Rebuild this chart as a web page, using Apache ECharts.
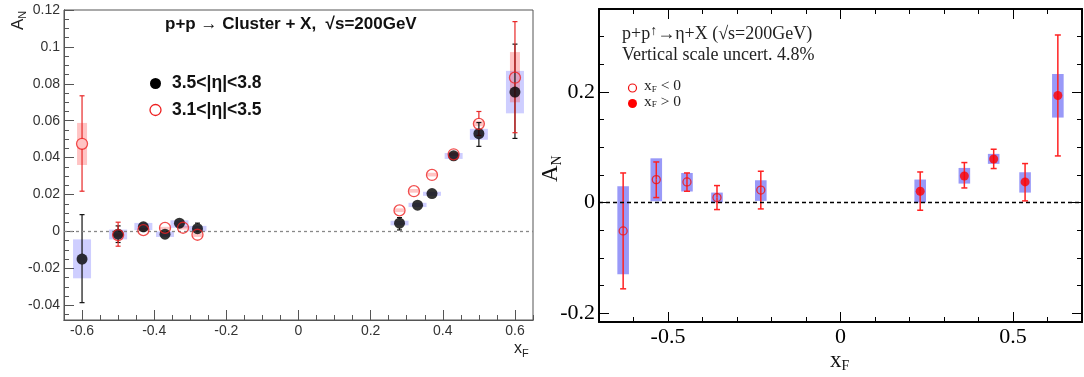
<!DOCTYPE html>
<html>
<head>
<meta charset="utf-8">
<script src="https://cdn.jsdelivr.net/npm/echarts@6/dist/echarts.min.js"></script>
<style>
  html, body { margin: 0; padding: 0; background: #fff; }
  #chart { width: 1084px; height: 377px; }
</style>
</head>
<body>
<div id="chart"></div>
<script>
// left panel, 3.5<|eta|<3.8 (black filled)
const xfL1 = [-0.6, -0.5, -0.43, -0.37, -0.33, -0.28, 0.28, 0.33, 0.37, 0.43, 0.5, 0.6];
const anL1 = [-0.015, -0.0015, 0.0025, -0.0015, 0.0045, 0.0015, 0.0045, 0.0142, 0.0205, 0.041, 0.053, 0.0755];
const errLoL1 = [-0.0386, -0.006, 0.0005, -0.0035, 0.002, -0.001, 0.0008, 0.0122, 0.0185, 0.0388, 0.0461, 0.0504];
const errHiL1 = [0.0091, 0.003, 0.0047, 0.0005, 0.0065, 0.0045, 0.0075, 0.0162, 0.0225, 0.0432, 0.059, 0.1015];
const sysLoL1 = [-0.0254, -0.0043, 0.0007, -0.003, 0.002, 0.0, 0.0033, 0.0132, 0.0193, 0.0393, 0.0497, 0.064];
const sysHiL1 = [-0.0043, 0.001, 0.0046, 0.0, 0.006, 0.003, 0.0058, 0.0155, 0.0215, 0.0425, 0.0556, 0.087];

// left panel, 3.1<|eta|<3.5 (red open)
const xfL2 = [-0.6, -0.5, -0.43, -0.37, -0.32, -0.28, 0.28, 0.32, 0.37, 0.43, 0.5, 0.6];
const anL2 = [0.0475, -0.002, 0.0007, 0.0019, 0.002, -0.0018, 0.0114, 0.0218, 0.0306, 0.0418, 0.0583, 0.0833];
const errLoL2 = [0.0218, -0.008, -0.0013, -0.0001, 0.0, -0.0038, 0.0094, 0.0198, 0.0286, 0.0398, 0.052, 0.0535];
const errHiL2 = [0.0735, 0.005, 0.0027, 0.0039, 0.004, 0.0002, 0.0134, 0.0238, 0.0326, 0.0438, 0.065, 0.1137];
const sysLoL2 = [0.036, -0.003, 0.0, 0.001, 0.001, -0.003, 0.0105, 0.021, 0.0298, 0.041, 0.057, 0.070];
const sysHiL2 = [0.0588, -0.001, 0.002, 0.0025, 0.003, -0.001, 0.0125, 0.023, 0.0318, 0.043, 0.060, 0.0972];

// right panel, x_F < 0 (open)
const xfNeg = [-0.63, -0.534, -0.445, -0.358, -0.231];
const anNeg = [-0.0513, 0.0415, 0.0373, 0.009, 0.0226];
const errLoNeg = [-0.156, 0.009, 0.0204, -0.0127, -0.0115];
const errHiNeg = [0.0535, 0.0734, 0.0535, 0.0307, 0.0566];
const sysLoNeg = [-0.1297, 0.0024, 0.020, 0.0, 0.003];
const sysHiNeg = [0.0293, 0.080, 0.0535, 0.018, 0.0403];

// right panel, x_F > 0 (filled)
const xfPos = [0.231, 0.359, 0.444, 0.535, 0.63];
const anPos = [0.0204, 0.048, 0.0788, 0.0373, 0.1935];
const errLoPos = [-0.0139, 0.0264, 0.0615, 0.003, 0.0843];
const errHiPos = [0.0553, 0.0723, 0.0964, 0.0705, 0.303];
const sysLoPos = [0.0, 0.0343, 0.070, 0.018, 0.1537];
const sysHiPos = [0.0416, 0.0626, 0.088, 0.0548, 0.2325];

// tick labels
const labelsXL = [-0.6, -0.4, -0.2, 0, 0.2, 0.4, 0.6];
const labelsYL = [-0.04, -0.02, 0, 0.02, 0.04, 0.06, 0.08, 0.1, 0.12];
const labelsXR = [-0.5, 0, 0.5];
const labelsYR = [-0.2, 0, 0.2];

const SANS = "'Liberation Sans', Arial, sans-serif";
const SERIF = "'Liberation Serif', 'Times New Roman', serif";

function steps(a, b, s) {
  const out = [];
  for (let v = a; v <= b + 1e-9; v += s) out.push(+v.toFixed(4));
  return out;
}
const zip = (...cols) => cols[0].map((_, i) => cols.map(c => c[i]));

function axis(grid, pos, min, max, ticks, len, labels, color, width, font) {
  return {
    type: 'value', gridIndex: grid, position: pos, min, max,
    axisLine: { onZero: false, lineStyle: { color, width } },
    axisTick: { inside: true, length: len, customValues: ticks, lineStyle: { color, width: 1 } },
    axisLabel: labels
      ? { customValues: labels, color: font.color, fontFamily: font.family, fontSize: font.size, margin: font.margin }
      : { show: false },
    splitLine: { show: false }
  };
}

// gap > 0: ROOT style, the bar starts at the marker edge and is dropped when inside the marker
function errSeries(xi, yi, xs, ys, lo, hi, color, width, cap, gap) {
  return {
    type: 'custom', xAxisIndex: xi, yAxisIndex: yi, z: 4, silent: true,
    data: zip(xs, ys, lo, hi),
    encode: { x: 0, y: [2, 3] },
    renderItem(params, api) {
      const x = api.value(0);
      const c = api.coord([x, api.value(1)]);
      const a = api.coord([x, api.value(2)]);
      const b = api.coord([x, api.value(3)]);
      const style = { stroke: color, lineWidth: width };
      const kids = [];
      const seg = (from, to) => {
        kids.push({ type: 'line', shape: { x1: c[0], y1: from, x2: c[0], y2: to }, style });
        kids.push({ type: 'line', shape: { x1: c[0] - cap, y1: to, x2: c[0] + cap, y2: to }, style });
      };
      if (gap > 0) {
        if (a[1] > c[1] + gap) seg(c[1] + gap, a[1]);
        if (b[1] < c[1] - gap) seg(c[1] - gap, b[1]);
      } else {
        seg(c[1], a[1]);
        seg(c[1], b[1]);
      }
      return { type: 'group', children: kids };
    }
  };
}

function boxSeries(xi, yi, xs, lo, hi, color, hw) {
  return {
    type: 'custom', xAxisIndex: xi, yAxisIndex: yi, z: 2, silent: true,
    data: zip(xs, lo, hi),
    encode: { x: 0, y: [1, 2] },
    renderItem(params, api) {
      const x = api.value(0);
      const t = api.coord([x, api.value(2)]);
      const b = api.coord([x, api.value(1)]);
      return {
        type: 'rect',
        shape: { x: t[0] - hw, y: t[1], width: hw * 2, height: Math.max(b[1] - t[1], 1) },
        style: { fill: color }
      };
    }
  };
}

const fontL = { family: SANS, size: 14, color: '#333', margin: 4 };
const fontR = { family: SERIF, size: 22, color: '#000', margin: 4 };
const LC = '#555', RC = '#000';

const chart = echarts.init(document.getElementById('chart'), null, { renderer: 'canvas' });

chart.setOption({
  animation: false,
  backgroundColor: '#fff',
  grid: [
    { left: 64, top: 10, width: 469, height: 310, show: true, borderColor: LC, borderWidth: 1, outerBoundsMode: 'none' },
    { left: 599, top: 9, width: 483, height: 313, show: true, borderColor: RC, borderWidth: 1.5, outerBoundsMode: 'none' }
  ],
  xAxis: [
    axis(0, 'bottom', -0.65, 0.65, labelsXL, 10, labelsXL, LC, 1, fontL),
    axis(0, 'bottom', -0.65, 0.65, steps(-0.65, 0.65, 0.05), 5, null, LC, 1),
    axis(1, 'bottom', -0.7, 0.7, labelsXR, 10, labelsXR, RC, 1.5, fontR),
    axis(1, 'bottom', -0.7, 0.7, steps(-0.7, 0.7, 0.1), 5, null, RC, 1.5),
    axis(1, 'top', -0.7, 0.7, labelsXR, 10, null, RC, 1.5),
    axis(1, 'top', -0.7, 0.7, steps(-0.7, 0.7, 0.1), 5, null, RC, 1.5)
  ],
  yAxis: [
    axis(0, 'left', -0.048, 0.12, labelsYL, 10, labelsYL, LC, 1, fontL),
    axis(0, 'left', -0.048, 0.12, steps(-0.045, 0.12, 0.005), 5, null, LC, 1),
    axis(1, 'left', -0.216, 0.35, labelsYR, 10, labelsYR, RC, 1.5, fontR),
    axis(1, 'left', -0.216, 0.35, steps(-0.2, 0.35, 0.05), 5, null, RC, 1.5),
    axis(1, 'right', -0.216, 0.35, labelsYR, 10, null, RC, 1.5),
    axis(1, 'right', -0.216, 0.35, steps(-0.2, 0.35, 0.05), 5, null, RC, 1.5)
  ],
  series: [
    // left panel
    boxSeries(0, 0, xfL1, sysLoL1, sysHiL1, 'rgba(60,60,255,0.25)', 9),
    boxSeries(0, 0, xfL2, sysLoL2, sysHiL2, 'rgba(255,60,60,0.3)', 5),
    errSeries(0, 0, xfL1, anL1, errLoL1, errHiL1, '#111', 1.2, 2.5, 5),
    errSeries(0, 0, xfL2, anL2, errLoL2, errHiL2, '#e82828', 1.2, 2.5, 5),
    {
      name: '3.5<|η|<3.8', type: 'scatter', xAxisIndex: 0, yAxisIndex: 0, z: 10, silent: true,
      data: zip(xfL1, anL1), symbol: 'circle', symbolSize: 11,
      itemStyle: { color: '#000' },
      markLine: {
        silent: true, symbol: 'none', label: { show: false },
        lineStyle: { color: '#888', type: [3, 3], width: 1.3 },
        data: [{ yAxis: 0 }]
      }
    },
    {
      name: '3.1<|η|<3.5', type: 'scatter', xAxisIndex: 0, yAxisIndex: 0, z: 11, silent: true,
      data: zip(xfL2, anL2), symbol: 'circle', symbolSize: 11,
      itemStyle: { color: 'rgba(255,255,255,0)', borderColor: '#ee2020', borderWidth: 1.3 }
    },
    // right panel
    boxSeries(2, 2, xfNeg, sysLoNeg, sysHiNeg, 'rgba(110,110,245,0.7)', 5.8),
    boxSeries(2, 2, xfPos, sysLoPos, sysHiPos, 'rgba(110,110,245,0.7)', 5.8),
    errSeries(2, 2, xfNeg, anNeg, errLoNeg, errHiNeg, '#f22', 1.5, 3, 0),
    errSeries(2, 2, xfPos, anPos, errLoPos, errHiPos, '#f22', 1.5, 3, 0),
    {
      name: 'xF<0', type: 'scatter', xAxisIndex: 2, yAxisIndex: 2, z: 10, silent: true,
      data: zip(xfNeg, anNeg), symbol: 'circle', symbolSize: 8,
      itemStyle: { color: 'rgba(255,255,255,0)', borderColor: '#f01010', borderWidth: 1.3 },
      markLine: {
        silent: true, symbol: 'none', label: { show: false },
        lineStyle: { color: '#000', type: [4, 3], width: 1.3 },
        data: [{ yAxis: 0 }]
      }
    },
    {
      name: 'xF>0', type: 'scatter', xAxisIndex: 2, yAxisIndex: 2, z: 10, silent: true,
      data: zip(xfPos, anPos), symbol: 'circle', symbolSize: 9,
      itemStyle: { color: '#f00' }
    }
  ],
  graphic: [
    // left panel texts
    {
      type: 'text', left: 165, top: 16, silent: true,
      style: {
        text: '{t|p+p }{a|→}{t| Cluster + X,  √s=200GeV}', fill: '#111',
        rich: {
          t: { font: 'bold 17px ' + SANS, lineHeight: 20, verticalAlign: 'middle' },
          a: { font: '17px ' + SERIF, lineHeight: 20, verticalAlign: 'middle' }
        }
      }
    },
    { type: 'circle', shape: { cx: 155.5, cy: 83.5, r: 5.5 }, style: { fill: '#000' }, silent: true },
    {
      type: 'text', left: 172, top: 74, silent: true,
      style: { text: '3.5<|η|<3.8', font: 'bold 17.5px ' + SANS, fill: '#111' }
    },
    { type: 'circle', shape: { cx: 155.5, cy: 110, r: 5.5 }, style: { fill: 'none', stroke: '#ee2020', lineWidth: 1.3 }, silent: true },
    {
      type: 'text', left: 172, top: 101, silent: true,
      style: { text: '3.1<|η|<3.5', font: 'bold 17.5px ' + SANS, fill: '#111' }
    },
    {
      type: 'text', x: 8, y: 30, rotation: Math.PI / 2, silent: true,
      style: {
        text: '{m|A}{s|N}', fill: '#222',
        rich: {
          m: { fontFamily: SANS, fontSize: 17, lineHeight: 20, verticalAlign: 'middle' },
          s: { fontFamily: SANS, fontSize: 11, lineHeight: 11, verticalAlign: 'bottom' }
        }
      }
    },
    {
      type: 'text', left: 514, top: 341, silent: true,
      style: {
        text: '{m|x}{s|F}', fill: '#222',
        rich: {
          m: { fontFamily: SANS, fontSize: 16, lineHeight: 20, verticalAlign: 'middle' },
          s: { fontFamily: SANS, fontSize: 11, lineHeight: 11, verticalAlign: 'bottom' }
        }
      }
    },
    // right panel texts
    {
      type: 'text', left: 622, top: 24, silent: true,
      style: {
        text: '{m|p+p}{u|↑}{m|→η+X (√s=200GeV)}\n{m|Vertical scale uncert. 4.8%}', fill: '#222',
        rich: {
          m: { fontFamily: SERIF, fontSize: 18, lineHeight: 21, verticalAlign: 'middle' },
          u: { fontFamily: SERIF, fontSize: 14, lineHeight: 14, verticalAlign: 'top' }
        }
      }
    },
    { type: 'circle', shape: { cx: 632.5, cy: 88, r: 4 }, style: { fill: 'none', stroke: '#f01010', lineWidth: 1.2 }, silent: true },
    { type: 'circle', shape: { cx: 632.5, cy: 103.5, r: 4.5 }, style: { fill: '#f00' }, silent: true },
    {
      type: 'text', left: 644, top: 78, silent: true,
      style: {
        text: '{m|x}{s|F}{m| < 0}\n{m|x}{s|F}{m| > 0}', fill: '#222',
        rich: {
          m: { fontFamily: SERIF, fontSize: 15.5, lineHeight: 15.5, verticalAlign: 'middle' },
          s: { fontFamily: SERIF, fontSize: 9, lineHeight: 9, verticalAlign: 'bottom' }
        }
      }
    },
    {
      type: 'text', x: 538, y: 182, rotation: Math.PI / 2, silent: true,
      style: {
        text: '{m|A}{s|N}', fill: '#111',
        rich: {
          m: { fontFamily: SERIF, fontSize: 23, lineHeight: 26, verticalAlign: 'middle' },
          s: { fontFamily: SERIF, fontSize: 14, lineHeight: 14, verticalAlign: 'bottom' }
        }
      }
    },
    {
      type: 'text', left: 830, top: 349, silent: true,
      style: {
        text: '{m|x}{s|F}', fill: '#111',
        rich: {
          m: { fontFamily: SERIF, fontSize: 23, lineHeight: 26, verticalAlign: 'middle' },
          s: { fontFamily: SERIF, fontSize: 14, lineHeight: 14, verticalAlign: 'bottom' }
        }
      }
    }
  ]
});
</script>
</body>
</html>
